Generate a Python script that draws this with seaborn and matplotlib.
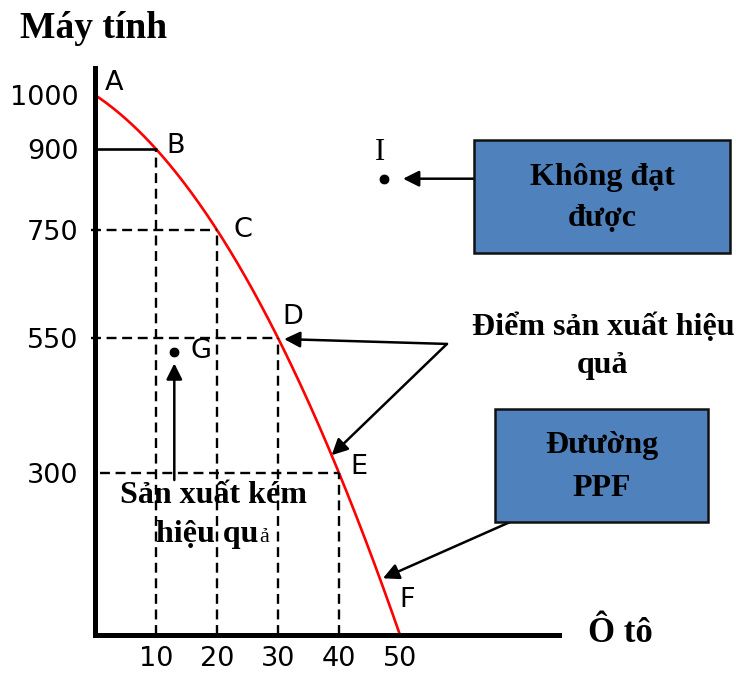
import numpy as np
import matplotlib
matplotlib.use("Agg")
import matplotlib.pyplot as plt
from matplotlib.patches import Rectangle
import seaborn as sns

# --- data ---
cars = [0, 10, 20, 30, 40, 50]
computers = [1000, 900, 750, 550, 300, 0]
point_names = ["A", "B", "C", "D", "E", "F"]
x_ticks = [10, 20, 30, 40, 50]
y_ticks = [300, 550, 750, 900, 1000]
g_point = (13, 525)      # inefficient
i_point = (47.4, 845)    # unattainable

sns.set_theme(style="white")
plt.rcParams["font.family"] = ["DejaVu Sans"]
plt.rcParams["text.color"] = "black"
SERIF = ["Liberation Serif", "DejaVu Serif"]

W, H = 736, 677
fig = plt.figure(figsize=(W / 100, H / 100), dpi=100)
ax = fig.add_axes([95 / W, 42 / H, 464 / W, 567 / H])
ax.set_xlim(0, 464 / 6.1)
ax.set_ylim(0, 1050)


def px(x, y):
    return x / W, 1 - y / H


# PPF curve (exact quadratic through the points)
coef = np.polyfit(cars, computers, 2)
xs = np.linspace(0, 50, 200)
sns.lineplot(x=xs, y=np.polyval(coef, xs), color="red", lw=1.9, ax=ax)

# guide lines
dash = (0, (4.2, 2.4))
for xv, yv in zip(cars[1:5], computers[1:5]):
    ax.plot([xv, xv], [0, yv], color="black", lw=1.7, linestyle=dash)
    if yv == 900:
        ax.plot([0, xv], [yv, yv], color="black", lw=1.9)
    else:
        x0 = 0.8 if yv == 300 else -0.6
        ax.plot([x0, xv], [yv, yv], color="black", lw=1.7, linestyle=dash,
                clip_on=False)

# point letters
offsets = [(14, 9), (14, 2), (19, 0), (11, 15), (14, 4), (5, 25)]
for xv, yv, name, off in zip(cars, computers, point_names, offsets):
    ax.annotate(name, (xv, yv), xytext=off, textcoords="offset points",
                ha="center", va="center", fontsize=19.5, color="black")

# G and I points
sns.scatterplot(x=[g_point[0], i_point[0]], y=[g_point[1], i_point[1]],
                color="black", s=60, ax=ax, zorder=5)
ax.annotate("G", g_point, xytext=(19, 0), textcoords="offset points",
            ha="center", va="center", fontsize=19.5, color="black")
ax.annotate("I", i_point, xytext=(-3, 19), textcoords="offset points",
            ha="center", va="center", fontsize=22, family=SERIF,
            color="black")

# axes styling
sns.despine(ax=ax)
for side in ["left", "bottom"]:
    ax.spines[side].set_linewidth(3.6)
    ax.spines[side].set_color("black")
ax.set_xticks(x_ticks)
ax.set_yticks(y_ticks)
ax.set_xticklabels([str(v) for v in x_ticks])
ax.set_yticklabels([str(v) for v in y_ticks])
ax.tick_params(axis="x", length=0, pad=8, labelsize=19.5, colors="black")
ax.tick_params(axis="y", length=0, pad=12, labelsize=19.5, colors="black")
ax.grid(False)

# arrows
arrow = dict(arrowstyle="-|>", color="black", lw=1.8, mutation_scale=24,
             shrinkA=0, shrinkB=0)
ax.annotate("", xy=(g_point[0], g_point[1] - 22), xytext=(g_point[0], 287),
            arrowprops=arrow)
ax.annotate("", xy=(50.5, i_point[1]), xytext=(62.1, i_point[1]),
            arrowprops=arrow)
ax.annotate("", xy=(31, 548), xytext=(57.7, 539), arrowprops=arrow)
ax.annotate("", xy=(38.8, 333), xytext=(57.7, 539), arrowprops=arrow)
ax.annotate("", xy=(47.2, 105), xytext=(68, 209), arrowprops=arrow)

# boxes
box_color = "#4F81BD"
for x0, y0, x1, y1 in [(474, 140, 730, 253), (495, 409, 708, 522)]:
    fig.add_artist(Rectangle(px(x0, y1), (x1 - x0) / W, (y1 - y0) / H,
                             transform=fig.transFigure, facecolor=box_color,
                             edgecolor="#111111", lw=1.8))

bold = dict(family=SERIF, fontweight="bold", fontsize=23, color="black")
fig.text(*px(602, 177), "Không đạt", ha="center", va="center", **bold)
fig.text(*px(602, 218), "được", ha="center", va="center", **bold)
fig.text(*px(602, 445), "Đưường", ha="center", va="center", **bold)
fig.text(*px(602, 488), "PPF", ha="center", va="center", **bold)
fig.text(*px(603, 327), "Điểm sản xuất hiệu", ha="center", va="center", **bold)
fig.text(*px(603, 365), "quả", ha="center", va="center", **bold)
fig.text(*px(213, 503), "Sản xuất kém", ha="center", va="baseline", **bold)
fig.text(*px(258, 542), "hiệu qu", ha="right", va="baseline", **bold)
fig.text(*px(259, 542), "ả", ha="left", va="baseline", family=SERIF,
         fontsize=16, color="black")

# axis titles
fig.text(*px(20, 28), "Máy tính", ha="left", va="center", family=SERIF,
         fontweight="bold", fontsize=27, color="black")
fig.text(*px(588, 633), "Ô tô", ha="left", va="center", family=SERIF,
         fontweight="bold", fontsize=25, color="black")

fig.savefig("out.png", dpi=100)
